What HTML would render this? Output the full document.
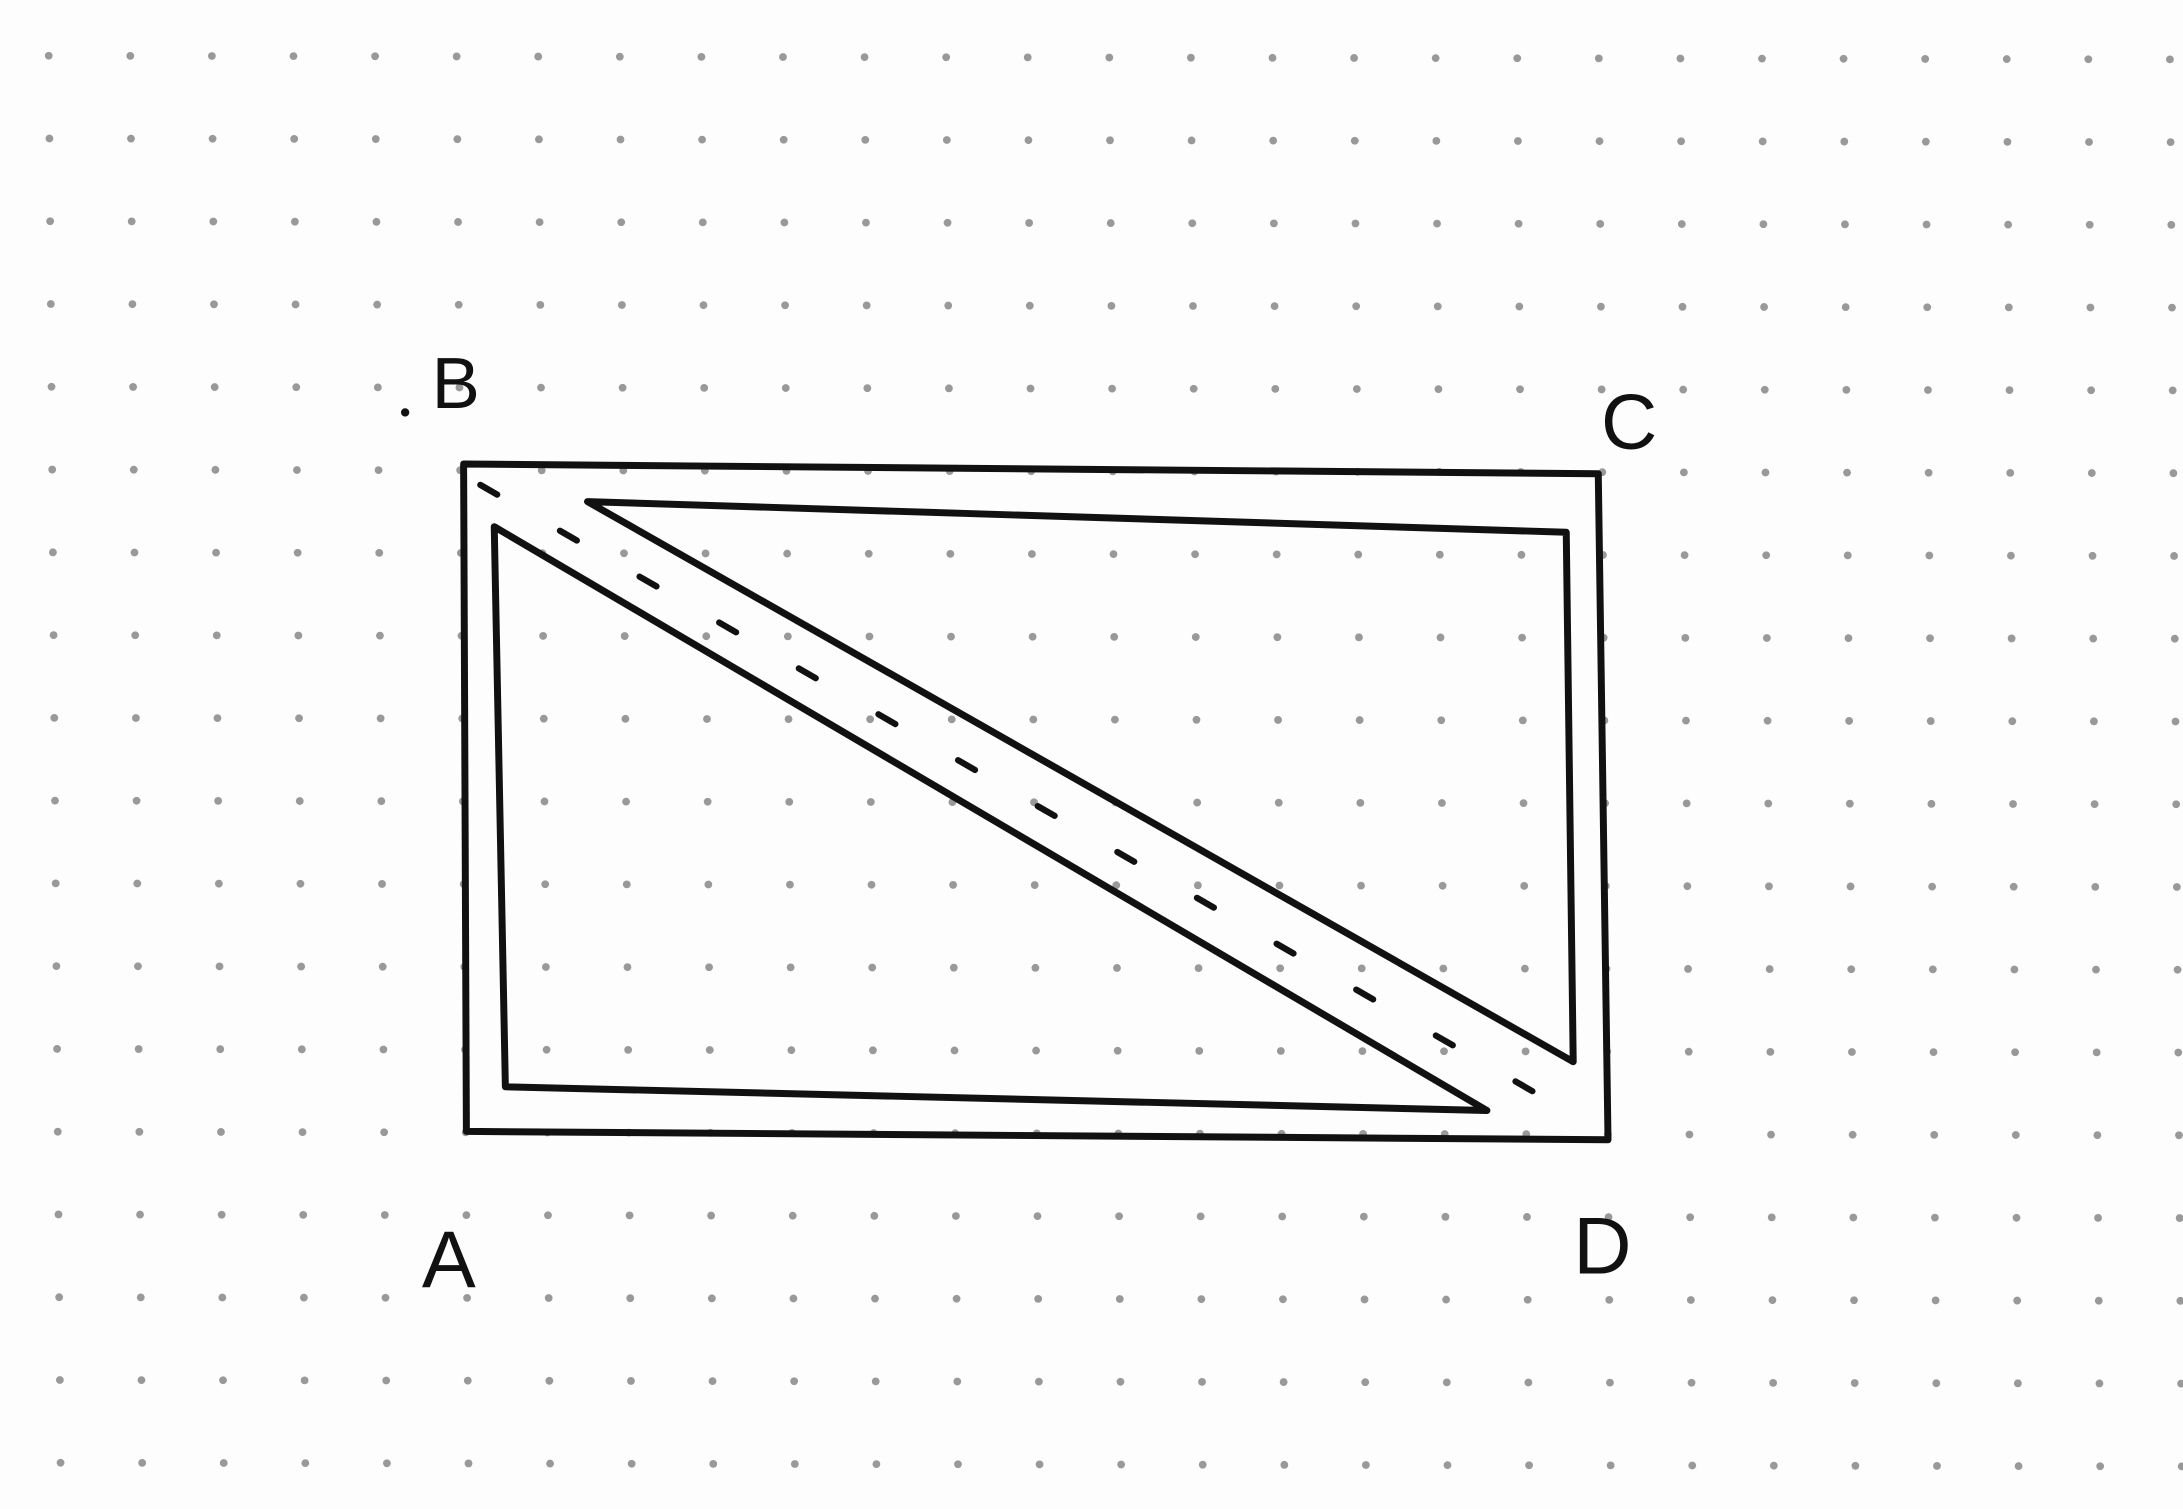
<!DOCTYPE html>
<html><head><meta charset="utf-8">
<style>
html,body{margin:0;padding:0;background:#fff;}
svg{display:block;}
text{font-family:"Liberation Sans",sans-serif;fill:#111;}
</style></head>
<body>
<svg width="2183" height="1509" viewBox="0 0 1568 1083" preserveAspectRatio="none" xmlns="http://www.w3.org/2000/svg">
<rect x="0" y="0" width="1568" height="1083" fill="#fdfdfd"/>
<g id="dots"></g>
<g id="shapes" fill="none" stroke="#111" stroke-width="5" stroke-linejoin="round" stroke-linecap="round"></g>
<text x="310" y="293" font-size="52">B</text>
<circle cx="291" cy="296" r="3" fill="#111"/>
<text x="1150" y="322" font-size="56">C</text>
<text x="303" y="924" font-size="58">A</text>
<text x="1130" y="914" font-size="58">D</text>
</svg>
<script>
const outerRect = [[335,812],[333,333],[1148,340],[1155,818]];
const lowerTriangle = [[355,378],[363,780],[1068,797]];
const upperTriangle = [[422,360],[1125,382],[1130,762]];
const diagonal = [[345,348],[1130,800]];
const ns = "http://www.w3.org/2000/svg";
const dots = document.getElementById('dots');
for (let i = 0; i < 27; i++) {
  for (let j = 0; j < 18; j++) {
    const c = document.createElementNS(ns, 'circle');
    
    
    c.setAttribute('cx', 35 + i * 58.6 + j * 0.5);
    c.setAttribute('cy', 40 + j * 59.4 + i * 0.1);
    c.setAttribute('r', 2.8);
    c.setAttribute('fill', '#999');
    dots.appendChild(c);
  }
}
const shapes = document.getElementById('shapes');
function poly(pts, name, closed) {
  const p = document.createElementNS(ns, closed ? 'polygon' : 'polyline');
  
  
  p.setAttribute('points', pts.map(q => q.join(',')).join(' '));
  shapes.appendChild(p);
  return p;
}
poly(outerRect, 'outer-rectangle', true);
poly(lowerTriangle, 'lower-left-triangle', true);
poly(upperTriangle, 'upper-right-triangle', true);
const d = poly(diagonal, 'dashed-diagonal-bd', false);
d.setAttribute('stroke-dasharray', '14 52');
d.setAttribute('stroke-width', '4.5');
</script>
</body></html>
